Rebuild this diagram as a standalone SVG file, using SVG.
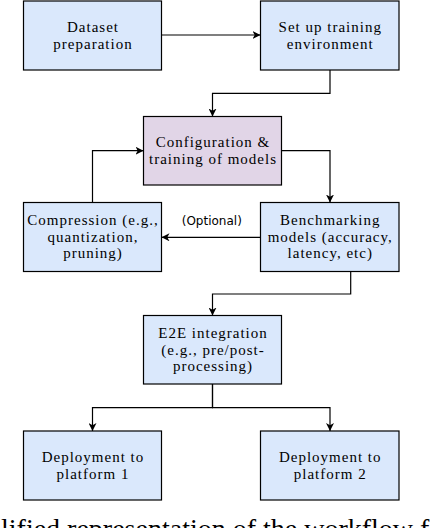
<svg xmlns="http://www.w3.org/2000/svg" width="434" height="528" viewBox="0 0 434 528">
<style>
.box{fill:#dae8fc;stroke:#000;stroke-width:1.2}
.pur{fill:#e1d5e7;stroke:#000;stroke-width:1.2}
.t{font-family:"Liberation Serif","Times New Roman",serif;font-size:15px;letter-spacing:1px;fill:#000;text-anchor:middle}
.lbl{font-family:"DejaVu Sans",sans-serif;font-size:12px;fill:#000;text-anchor:middle}
.cap{font-family:"Liberation Serif",serif;font-size:28px;fill:#000}
.c{fill:none;stroke:#000;stroke-width:1.2;marker-end:url(#ah)}
</style>
<defs>
<marker id="ah" markerUnits="userSpaceOnUse" markerWidth="9" markerHeight="8" refX="8" refY="4" orient="auto">
<path d="M0,0 L8,4 L0,8 L2.2,4 z" fill="#000"/>
</marker>
</defs>
<rect x="0" y="0" width="434" height="528" fill="#fff"/>
<g id="connectors">
<path class="c" d="M161.5,35 H260.5"/>
<path class="c" d="M330,70 V93.3 H212.5 V116.5"/>
<path class="c" d="M281.5,150.7 H330 V202.5"/>
<path class="c" d="M92.5,202.5 V150.7 H143.5"/>
<path class="c" d="M260.5,237.3 H161.5"/>
<path class="c" d="M350.7,271.5 V294 H212.5 V315.5"/>
<path class="c" d="M212.5,384 V407.7 H92.5 V431"/>
<path class="c" d="M212.5,384 V407.7 H330 V431"/>
<text class="lbl" x="211.8" y="225.3">(Optional)</text>
</g>
<g id="dataset">
<rect class="box" x="23.5" y="1" width="138" height="69"/>
<text class="t" x="93" y="32">Dataset</text>
<text class="t" x="93" y="48.6">preparation</text>
</g>
<g id="setup">
<rect class="box" x="260.5" y="1" width="138.5" height="69"/>
<text class="t" x="330.25" y="32">Set up training</text>
<text class="t" x="330.25" y="48.6">environment</text>
</g>
<g id="config">
<rect class="pur" x="143.5" y="116.5" width="138" height="68.5"/>
<text class="t" x="213" y="147.1">Configuration &amp;</text>
<text class="t" x="213" y="163.8">training of models</text>
</g>
<g id="compression">
<rect class="box" x="23.5" y="202.5" width="138" height="69"/>
<text class="t" x="93" y="224.9">Compression (e.g.,</text>
<text class="t" x="93" y="241.6">quantization,</text>
<text class="t" x="93" y="258.3">pruning)</text>
</g>
<g id="benchmarking">
<rect class="box" x="260.5" y="202.5" width="138.5" height="69"/>
<text class="t" x="330.25" y="224.9">Benchmarking</text>
<text class="t" x="330.25" y="241.6">models (accuracy,</text>
<text class="t" x="330.25" y="258.3">latency, etc)</text>
</g>
<g id="e2e">
<rect class="box" x="143.5" y="315.5" width="138" height="68.5"/>
<text class="t" x="213" y="337.9">E2E integration</text>
<text class="t" x="213" y="354.6">(e.g., pre/post-</text>
<text class="t" x="213" y="371.3">processing)</text>
</g>
<g id="deploy1">
<rect class="box" x="23.5" y="431" width="138" height="69"/>
<text class="t" x="93" y="462">Deployment to</text>
<text class="t" x="93" y="478.6">platform 1</text>
</g>
<g id="deploy2">
<rect class="box" x="260.5" y="431" width="138.5" height="69"/>
<text class="t" x="330.25" y="462">Deployment to</text>
<text class="t" x="330.25" y="478.6">platform 2</text>
</g>
<text class="cap" x="1" y="538">lified representation of the workflow f</text>
</svg>
